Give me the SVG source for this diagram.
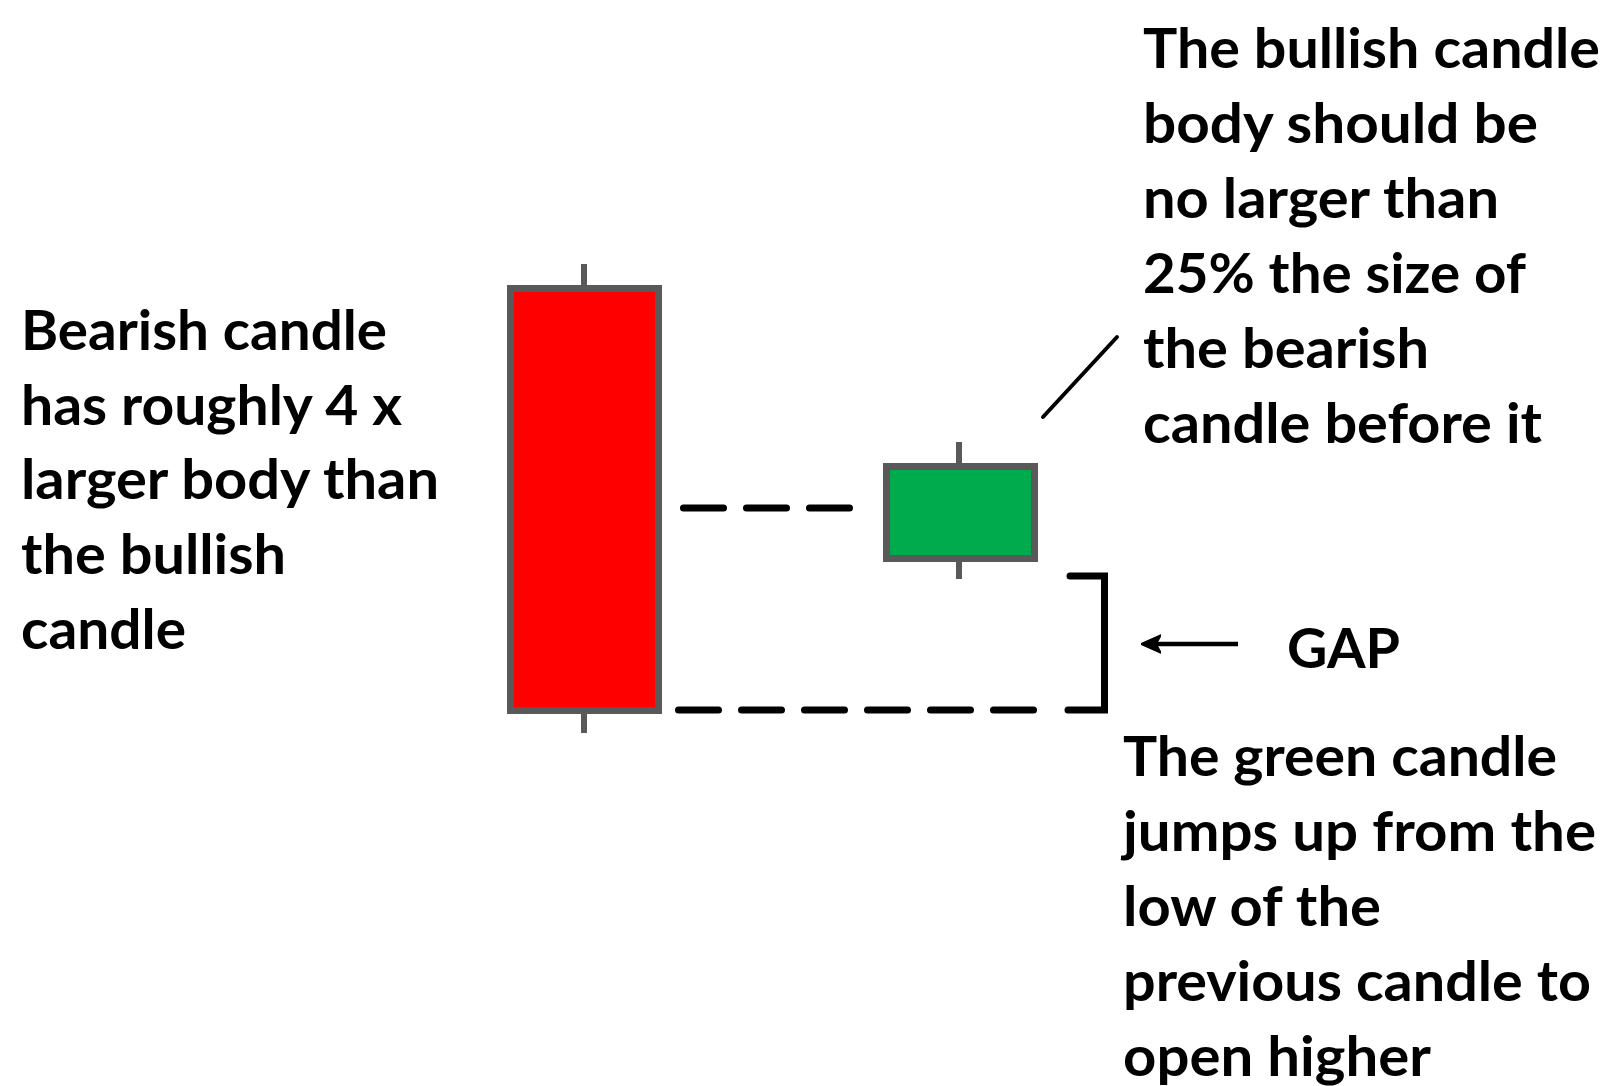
<svg xmlns="http://www.w3.org/2000/svg" width="1608" height="1086" viewBox="0 0 1608 1086">
<style>
.t{font-family:Lato,"Open Sans","Liberation Sans",sans-serif;font-weight:bold;font-size:56px;fill:#000}
.wick{stroke:#595959;stroke-width:6;fill:none}
.body{stroke:#595959;stroke-width:7}
.dash{stroke:#000;stroke-width:7;fill:none;stroke-linecap:round;stroke-dasharray:40 23}
.solid{stroke:#000;fill:none}
</style>
<defs>
<marker id="ah" viewBox="0 0 10 10" refX="5.5" refY="5" markerWidth="20" markerHeight="20" markerUnits="userSpaceOnUse" orient="auto">
<path d="M0,0.5 L10,5 L0,9.5 L2.5,5 Z" fill="#000" stroke="#000" stroke-width="0.8" stroke-linejoin="round"/>
</marker>
</defs>
<rect width="1608" height="1086" fill="#fff"/>
<g id="bearish-candle">
<line class="wick" x1="584" y1="264" x2="584" y2="288"/>
<line class="wick" x1="584" y1="711" x2="584" y2="733"/>
<rect class="body" x="510.5" y="288.5" width="148" height="422" fill="#FF0000"/>
</g>
<g id="bullish-candle">
<line class="wick" x1="959" y1="442" x2="959" y2="466"/>
<line class="wick" x1="959" y1="559" x2="959" y2="579"/>
<rect class="body" x="886.5" y="466.5" width="148" height="92" fill="#00AB4E"/>
</g>
<g id="connectors">
<path class="dash" d="M683.5,508 H851"/>
<path class="dash" d="M678.5,710 H1034"/>
<path class="solid" stroke-width="7" stroke-linecap="round" d="M1070,576 H1104.5 V710 H1068"/>
<line class="solid" stroke-width="4" stroke-linecap="round" x1="1043" y1="417" x2="1117" y2="337"/>
<line class="solid" stroke-width="4.5" x1="1238" y1="644" x2="1150" y2="644" marker-end="url(#ah)"/>
</g>
<g id="left-label">
<text class="t" x="21" y="350" textLength="366" lengthAdjust="spacingAndGlyphs">Bearish candle</text>
<text class="t" x="21" y="425" textLength="381" lengthAdjust="spacingAndGlyphs">has roughly 4 x</text>
<text class="t" x="21" y="499" textLength="418" lengthAdjust="spacingAndGlyphs">larger body than</text>
<text class="t" x="21" y="574" textLength="265" lengthAdjust="spacingAndGlyphs">the bullish</text>
<text class="t" x="21" y="649" textLength="165" lengthAdjust="spacingAndGlyphs">candle</text>
</g>
<g id="top-right-label">
<text class="t" x="1143" y="68" textLength="457" lengthAdjust="spacingAndGlyphs">The bullish candle</text>
<text class="t" x="1143" y="143" textLength="395" lengthAdjust="spacingAndGlyphs">body should be</text>
<text class="t" x="1143" y="218" textLength="356" lengthAdjust="spacingAndGlyphs">no larger than</text>
<text class="t" x="1143" y="293" textLength="383" lengthAdjust="spacingAndGlyphs">25% the size of</text>
<text class="t" x="1143" y="368" textLength="286" lengthAdjust="spacingAndGlyphs">the bearish</text>
<text class="t" x="1143" y="443" textLength="399" lengthAdjust="spacingAndGlyphs">candle before it</text>
</g>
<g id="gap-label">
<text class="t" x="1287" y="668" textLength="113" lengthAdjust="spacingAndGlyphs">GAP</text>
</g>
<g id="bottom-right-label">
<text class="t" x="1123" y="776" textLength="434" lengthAdjust="spacingAndGlyphs">The green candle</text>
<text class="t" x="1123" y="851" textLength="473" lengthAdjust="spacingAndGlyphs">jumps up from the</text>
<text class="t" x="1123" y="926" textLength="258" lengthAdjust="spacingAndGlyphs">low of the</text>
<text class="t" x="1123" y="1001" textLength="468" lengthAdjust="spacingAndGlyphs">previous candle to</text>
<text class="t" x="1123" y="1076" textLength="308" lengthAdjust="spacingAndGlyphs">open higher</text>
</g>
</svg>
